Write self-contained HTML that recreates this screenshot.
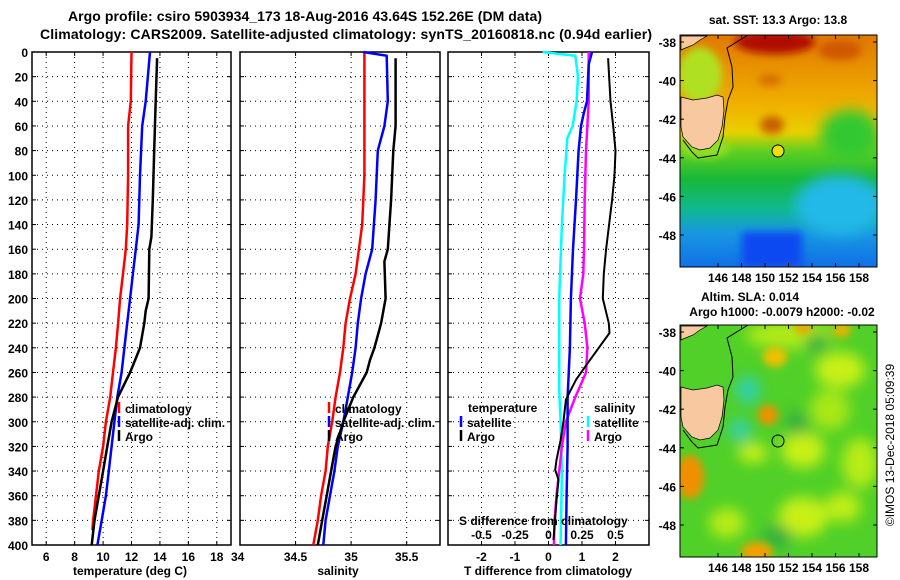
<!DOCTYPE html>
<html><head><meta charset="utf-8"><style>
html,body{margin:0;padding:0;background:#fff;}
svg{display:block;font-family:"Liberation Sans",Arial,sans-serif;font-weight:bold;}
</style></head><body>
<svg id="chart" width="900" height="580" viewBox="0 0 900 580" xmlns="http://www.w3.org/2000/svg">
<defs>
<filter id="bl" x="-50%" y="-50%" width="200%" height="200%"><feGaussianBlur stdDeviation="7"/></filter>
<filter id="bl2" x="-50%" y="-50%" width="200%" height="200%"><feGaussianBlur stdDeviation="4"/></filter>
<clipPath id="m1"><rect x="680" y="35" width="197" height="232"/></clipPath>
<clipPath id="m2"><rect x="680" y="325" width="197" height="232"/></clipPath>
<linearGradient id="sst" x1="0" y1="0" x2="0" y2="1">
<stop offset="0" stop-color="#e07800"/><stop offset="0.3" stop-color="#f0b000"/><stop offset="0.42" stop-color="#e8d000"/>
<stop offset="0.5" stop-color="#60d020"/><stop offset="0.62" stop-color="#18b838"/><stop offset="0.75" stop-color="#10b890"/>
<stop offset="0.85" stop-color="#1898e0"/><stop offset="1" stop-color="#1070e8"/></linearGradient>
</defs>
<text x="68" y="21" font-size="14" textLength="474">Argo profile: csiro 5903934_173 18-Aug-2016 43.64S 152.26E (DM data)</text>
<text x="40" y="39" font-size="14" textLength="612">Climatology: CARS2009. Satellite-adjusted climatology: synTS_20160818.nc (0.94d earlier)</text>
<g id="panels"></g>
<g id="maps">
<text x="778" y="24" font-size="12" text-anchor="middle">sat. SST: 13.3 Argo: 13.8</text>
<g clip-path="url(#m1)">
<rect x="680" y="35" width="197" height="232" fill="url(#sst)"/>
<ellipse cx="775" cy="42" rx="40" ry="12" fill="#b01000" filter="url(#bl2)"/>
<ellipse cx="840" cy="50" rx="22" ry="10" fill="#d05800" filter="url(#bl2)"/>
<ellipse cx="770" cy="80" rx="12" ry="6" fill="#d87000" filter="url(#bl2)"/>
<ellipse cx="772" cy="125" rx="12" ry="9" fill="#c86000" filter="url(#bl2)"/>
<ellipse cx="700" cy="75" rx="22" ry="28" fill="#b0e020" filter="url(#bl2)"/>
<ellipse cx="705" cy="148" rx="25" ry="10" fill="#90e020" filter="url(#bl2)"/>
<ellipse cx="850" cy="135" rx="30" ry="25" fill="#30c830" filter="url(#bl)"/>
<ellipse cx="840" cy="205" rx="45" ry="30" fill="#20b8e8" filter="url(#bl)"/>
<rect x="742" y="232" width="60" height="35" fill="#1048f0" filter="url(#bl2)"/>
<polygon points="681,36 707,36 700,40 693,45 683,49 681,50" fill="#f8c8a0" stroke="#000" stroke-width="0.7"/>
<polygon points="681,97 693,100 707,98 717,95 723,97 724,110 722,127 718,140 710,148 700,150 692,147 683,137 681,127" fill="#f8c8a0" stroke="#000" stroke-width="0.7"/>
<polyline points="748,35 727,48 732,67 733,87 728,100 725,117 723,137 717,155 698,158 692,152 683,140" fill="none" stroke="#000" stroke-width="1"/>
<circle cx="778" cy="151" r="6" fill="#f0e000" stroke="#000" stroke-width="1"/>
</g>
<rect x="680" y="35" width="197" height="232" fill="none" stroke="#000" stroke-width="1"/>
<text x="750" y="301" font-size="12" text-anchor="middle">Altim. SLA: 0.014</text>
<text x="782" y="316" font-size="12" text-anchor="middle">Argo h1000: -0.0079 h2000: -0.02</text>
<g clip-path="url(#m2)">
<rect x="680" y="325" width="197" height="232" fill="#50d028"/>
<g filter="url(#bl)">
<ellipse cx="840" cy="370" rx="25" ry="18" fill="#c8f018"/>
<ellipse cx="803" cy="450" rx="22" ry="18" fill="#c8f018"/>
<ellipse cx="753" cy="453" rx="15" ry="10" fill="#c8f018"/>
<ellipse cx="860" cy="463" rx="18" ry="25" fill="#b8ec18"/>
<ellipse cx="803" cy="517" rx="25" ry="20" fill="#c8f018"/>
<ellipse cx="843" cy="507" rx="18" ry="15" fill="#c0ee18"/>
<ellipse cx="727" cy="523" rx="18" ry="15" fill="#b8ec18"/>
<ellipse cx="790" cy="335" rx="45" ry="14" fill="#b0ea18"/>
<ellipse cx="830" cy="410" rx="20" ry="20" fill="#a8e818"/>
<ellipse cx="777" cy="537" rx="15" ry="12" fill="#30b040"/>
<ellipse cx="817" cy="343" rx="12" ry="10" fill="#30b040"/>
<ellipse cx="797" cy="423" rx="12" ry="12" fill="#30b040"/>
<ellipse cx="748" cy="390" rx="12" ry="14" fill="#30d0b0"/>
<ellipse cx="740" cy="430" rx="11" ry="11" fill="#30d0b0"/>
</g>
<g filter="url(#bl2)">
<ellipse cx="803" cy="328" rx="8" ry="6" fill="#f0a000"/>
<ellipse cx="842" cy="330" rx="9" ry="7" fill="#f0b000"/>
<ellipse cx="775" cy="357" rx="12" ry="10" fill="#f0c000"/>
<ellipse cx="768" cy="415" rx="10" ry="10" fill="#f09000"/>
<ellipse cx="690" cy="477" rx="14" ry="22" fill="#f09000"/>
<ellipse cx="757" cy="552" rx="16" ry="10" fill="#f0a000"/>
</g>
<polygon points="681,326 707,326 700,330 693,335 683,339 681,340" fill="#f8c8a0" stroke="#000" stroke-width="0.7"/>
<polygon points="681,387 693,390 707,388 717,385 723,387 724,400 722,417 718,430 710,438 700,440 692,437 683,427 681,417" fill="#f8c8a0" stroke="#000" stroke-width="0.7"/>
<polyline points="748,325 727,338 732,357 733,377 728,390 725,407 723,427 717,445 698,448 692,442 683,430" fill="none" stroke="#000" stroke-width="1"/>
<circle cx="778" cy="441" r="6" fill="none" stroke="#000" stroke-width="1"/>
</g>
<rect x="680" y="325" width="197" height="232" fill="none" stroke="#000" stroke-width="1"/>
<g id="maplabels"></g>
<text transform="translate(894,445) rotate(-90)" font-size="12" font-weight="normal" text-anchor="middle">©IMOS 13-Dec-2018 05:09:39</text>
</g>
</svg>
<script>
const tClimDepth=[0,40,60,100,140,160,180,200,220,240,260,280,300,320,340,360,380,388];
const tClimVal=[12.0,11.95,11.76,11.76,11.7,11.6,11.4,11.2,11.06,10.9,10.7,10.5,10.2,10.0,9.7,9.5,9.3,9.25];
const tSatDepth=[0,40,60,100,140,160,180,200,220,240,260,280,300,320,340,360,380,400];
const tSatVal=[13.3,13.0,12.75,12.6,12.5,12.3,12.1,11.9,11.7,11.5,11.3,11.0,10.8,10.6,10.4,10.2,9.9,9.6];
const tArgoDepth=[5,40,80,120,150,160,200,210,220,240,250,260,280,300,320,340,360,380,400];
const tArgoVal=[13.8,13.7,13.6,13.5,13.4,13.25,13.2,13.0,12.9,12.6,12.25,11.9,11.05,10.6,10.3,10.0,9.7,9.4,9.2];
const sClimDepth=[0,100,140,160,180,200,220,240,260,280,300,320,340,360,380,400];
const sClimVal=[35.12,35.12,35.1,35.07,35.04,34.99,34.95,34.93,34.9,34.86,34.83,34.79,34.77,34.73,34.7,34.66];
const sSatDepth=[0,3,40,60,80,120,160,180,200,220,240,260,280,300,320,340,360,380,400];
const sSatVal=[35.11,35.32,35.33,35.3,35.24,35.22,35.19,35.13,35.09,35.06,35.04,35.01,34.97,34.93,34.88,34.85,34.81,34.77,34.75];
const sArgoDepth=[5,60,80,120,160,170,200,220,230,240,250,260,270,280,300,320,340,360,380,400];
const sArgoVal=[35.4,35.4,35.38,35.36,35.33,35.3,35.31,35.27,35.24,35.21,35.17,35.14,35.08,35.02,34.93,34.86,34.82,34.78,34.74,34.7];
const dTSatDepth=[0,10,40,50,60,80,120,160,200,240,280,320,360,400];
const dTSatVal=[1.3,1.2,1.15,1.05,0.97,0.9,0.82,0.73,0.67,0.64,0.57,0.57,0.54,0.52];
const dTArgoDepth=[5,40,60,80,100,120,160,180,200,220,228,240,255,266,282,299,315,331,339,347,364,396];
const dTArgoVal=[1.78,1.85,1.93,2.0,1.97,1.9,1.72,1.65,1.62,1.8,1.82,1.5,1.1,0.82,0.52,0.45,0.36,0.24,0.2,0.3,0.24,0.15];
const dSSatDepth=[0,3,20,40,60,70,100,140,200,274,300,340,400];
const dSSatVal=[-0.045,0.2,0.22,0.21,0.18,0.14,0.12,0.1,0.08,0.08,0.09,0.1,0.09];
const dSArgoDepth=[0,40,80,120,160,180,200,220,240,260,270,280,300,320,340,360,380,400];
const dSArgoVal=[0.3,0.3,0.28,0.27,0.265,0.26,0.235,0.27,0.29,0.28,0.24,0.2,0.13,0.1,0.08,0.06,0.045,0.04];
const depthTicks=[0,20,40,60,80,100,120,140,160,180,200,220,240,260,280,300,320,340,360,380,400];
const tTicks=[6,8,10,12,14,16,18];
const sTicks=[34,34.5,35,35.5];
const dTTicks=[-2,-1,0,1,2];
const dSTickLabels=["-0.5","-0.25","0","0.25","0.5"];
const dSTicks=[-0.5,-0.25,0,0.25,0.5];
const lonTicks=[146,148,150,152,154,156,158];
const latTicks=[-38,-40,-42,-44,-46,-48];

const NS="http://www.w3.org/2000/svg";
const Y0=52,Y1=545;
function yD(d){return Y0+(d/400)*(Y1-Y0);}
function xT(v){return 32+(v-5)/14*199;}
function xS(v){return 240+(v-34)/1.8*200;}
function xDT(v){return 448+(v+3)/6*201;}
function xDS(v){return xDT(v*4);}
const P=document.getElementById('panels');
function mk(tag,attrs,parent){const e=document.createElementNS(NS,tag);for(const k in attrs)e.setAttribute(k,attrs[k]);(parent||P).appendChild(e);return e;}
function txt(s,x,y,anchor,size,name){const e=mk('text',{x:x,y:y,'text-anchor':anchor,'font-size':size});e.textContent=s;


return e;}
function frame(x0,x1,name,xticks,xf,labels,showY){
 const g=mk('g',{});
 
 
 depthTicks.forEach(d=>{
  if(d>0&&d<400){const l=mk('line',{x1:x0,x2:x1,y1:yD(d),y2:yD(d),stroke:'#000','stroke-width':1,'stroke-dasharray':'1,4'},g);
  
  }
  mk('line',{x1:x1-4,x2:x1,y1:yD(d),y2:yD(d),stroke:'#000'},g);
  mk('line',{x1:x0,x2:x0+4,y1:yD(d),y2:yD(d),stroke:'#000'},g);
  if(showY){txt(String(d),28,yD(d)+5,'end',12,'y-tick-label');}
 });
 xticks.forEach((t,i)=>{const x=xf(t);
  if(x>x0+1&&x<x1-1){const l=mk('line',{x1:x,x2:x,y1:Y0,y2:Y1,stroke:'#000','stroke-width':1,'stroke-dasharray':'1,4'},g);
  
  
  mk('line',{x1:x,x2:x,y1:Y0,y2:Y0+4,stroke:'#000'},g);mk('line',{x1:x,x2:x,y1:Y1-4,y2:Y1,stroke:'#000'},g);}
  if(labels)txt(labels[i],x,Y1+16,'middle',12,'x-tick-label');
 });
 const r=mk('rect',{x:x0,y:Y0,width:x1-x0,height:Y1-Y0,fill:'none',stroke:'#000','stroke-width':1.5},g);
 
 
}
function line(ds,vs,xf,color,w,name){
 const pts=[];for(let i=0;i<ds.length;i++){pts.push(xf(vs[i]).toFixed(1)+','+yD(ds[i]).toFixed(1));}
 const p=mk('polyline',{points:pts.join(' '),fill:'none',stroke:color,'stroke-width':w,'stroke-linejoin':'round'});
 
 
}
function leg(x,y,color,label,name){
 const l=mk('line',{x1:x,x2:x,y1:y-11,y2:y,stroke:color,'stroke-width':2.5});
 
 
 if(label)txt(label,x+6,y,'start',12,name+'-label');
}
frame(32,231,'temperature-panel',tTicks,xT,tTicks.map(String),true);
txt('34',xT(19),Y1+16,'start',12,'x-tick-label');
line(tClimDepth,tClimVal,xT,'#ff0000',2.5,'temp-climatology-line');
line(tSatDepth,tSatVal,xT,'#0000ff',2.5,'temp-satellite-line');
line(tArgoDepth,tArgoVal,xT,'#000000',2.5,'temp-argo-line');
txt('temperature (deg C)',130,575,'middle',12,'temperature-axis-title');
leg(119,413,'#ff0000','climatology','legend-climatology');
leg(119,427,'#0000ff','satellite-adj. clim.','legend-satellite-adj');
leg(119,441,'#000000','Argo','legend-argo');
frame(240,440,'salinity-panel',sTicks,xS,null,false);
txt('34.5',xS(34.5),Y1+16,'middle',12,'x-tick-label');
txt('35',xS(35),Y1+16,'middle',12,'x-tick-label');
txt('35.5',xS(35.5),Y1+16,'middle',12,'x-tick-label');
line(sClimDepth,sClimVal,xS,'#ff0000',2.5,'sal-climatology-line');
line(sSatDepth,sSatVal,xS,'#0000ff',2.5,'sal-satellite-line');
line(sArgoDepth,sArgoVal,xS,'#000000',2.5,'sal-argo-line');
txt('salinity',338,575,'middle',12,'salinity-axis-title');
leg(329,413,'#ff0000','climatology','legend-s-climatology');
leg(329,427,'#0000ff','satellite-adj. clim.','legend-s-satellite-adj');
leg(329,441,'#000000','Argo','legend-s-argo');
frame(448,649,'difference-panel',dTTicks,xDT,dTTicks.map(String),false);
line(dSSatDepth,dSSatVal,xDS,'#00ffff',2.5,'sdiff-satellite-line');
line(dSArgoDepth,dSArgoVal,xDS,'#ff00ff',2.5,'sdiff-argo-line');
line(dTSatDepth,dTSatVal,xDT,'#0000ff',2.5,'tdiff-satellite-line');
line(dTArgoDepth,dTArgoVal,xDT,'#000000',2,'tdiff-argo-line');
txt('temperature',468,412,'start',12,'legend-temperature-heading');
leg(461,427,'#0000ff','satellite','legend-t-satellite');
leg(461,441,'#000000','Argo','legend-t-argo');
txt('salinity',594,412,'start',12,'legend-salinity-heading');
leg(588,427,'#00ffff','satellite','legend-s-sat');
leg(588,441,'#ff00ff','Argo','legend-s-argo-diff');
txt('S difference from climatology',459,525,'start',12,'s-diff-axis-title');
dSTicks.forEach((t,i)=>{txt(dSTickLabels[i],xDS(t),539,'middle',12,'s-diff-tick-label');});
txt('T difference from climatology',548,575,'middle',12,'t-diff-axis-title');
const ML=document.getElementById('maplabels');
function mlab(s,x,y,anchor,name){const e=document.createElementNS(NS,'text');e.setAttribute('x',x);e.setAttribute('y',y);e.setAttribute('text-anchor',anchor);e.setAttribute('font-size',12);e.textContent=s;


ML.appendChild(e);}
function mtick(x1,y1,x2,y2){const e=document.createElementNS(NS,'line');e.setAttribute('x1',x1);e.setAttribute('y1',y1);e.setAttribute('x2',x2);e.setAttribute('y2',y2);e.setAttribute('stroke','#000');ML.appendChild(e);}
function lx(lon){return 718+(lon-146)*11.75;}
function ly(lat,off){return 42+(-38-lat)*19.3+off;}
[0,290].forEach(off=>{
 lonTicks.forEach(l=>{mlab(String(l),lx(l),off+282,'middle','map-lon-label');mtick(lx(l),off+35,lx(l),off+39);mtick(lx(l),off+263,lx(l),off+267);});
 latTicks.forEach(l=>{mlab(String(l),676,ly(l,off)+5,'end','map-lat-label');mtick(877,ly(l,off),873,ly(l,off));mtick(680,ly(l,off),684,ly(l,off));});
});
</script>
</body></html>
